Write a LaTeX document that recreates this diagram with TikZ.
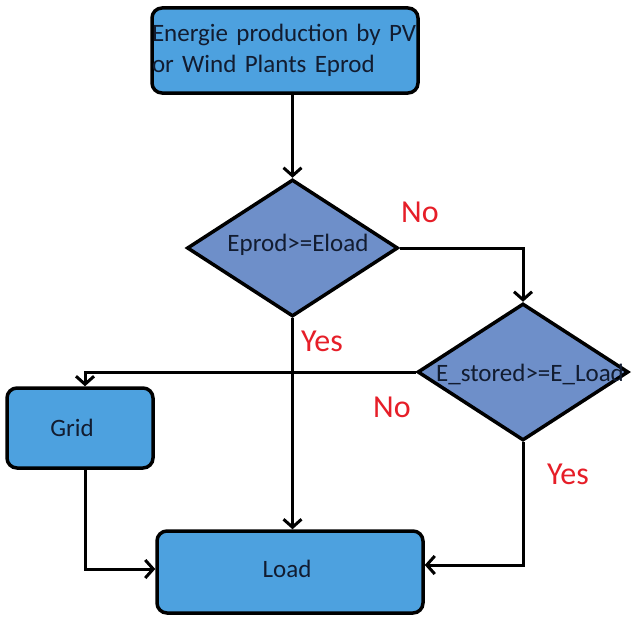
\documentclass[tikz,border=0pt]{standalone}
\usepackage{fontspec}
\setmainfont{Carlito}
\usetikzlibrary{shapes.geometric,arrows.meta,calc}
\definecolor{boxblue}{RGB}{77,161,223}
\definecolor{diablue}{RGB}{110,143,201}
\definecolor{txt}{RGB}{18,28,48}
\definecolor{lblred}{RGB}{230,30,40}
\begin{document}
\begin{tikzpicture}[x=1pt,y=-1pt,
  box/.style={draw=black,line width=3.5pt,fill=boxblue,rounded corners=10pt,inner sep=0pt,text=txt,font=\fontsize{25}{31}\selectfont},
  dia/.style={draw=black,line width=3.5pt,fill=diablue,diamond,inner sep=0pt,minimum width=211pt,minimum height=137pt},
  dtext/.style={text=txt,font=\fontsize{25}{30}\selectfont,inner sep=0pt},
  lbl/.style={text=lblred,font=\fontsize{32}{34}\selectfont,inner sep=0pt},
  conn/.style={line width=3pt,-{Straight Barb[length=8pt,width=18pt,line width=3pt]}}]
\fill[white] (0,0) rectangle (640,626);
\useasboundingbox (0,0) rectangle (640,626);
% nodes
\node[box,minimum width=266pt,minimum height=85pt,text width=266pt,align=left] (src) at (285,50.5) {Energie production by PV\\or Wind Plants Eprod};
\node[dia] (d1) at (292.5,248) {};
\node[dtext] (t1) at (298,245) {Eprod>=Eload};
\node[dia] (d2) at (523,372) {};
\node[dtext] (t2) at (530,374) {E\_stored>=E\_Load};
\node[box,minimum width=146pt,minimum height=80pt] (grid) at (80,428) {};
\node[dtext] (gridt) at (72,428) {Grid};
\node[box,minimum width=266pt,minimum height=82pt] (load) at (290,572) {};
\node[dtext] (loadt) at (287,569) {Load};
% labels
\node[lbl] (no1) at (420,212) {No};
\node[lbl] (yes1) at (322,341) {Yes};
\node[lbl] (no2) at (392,407) {No};
\node[lbl] (yes2) at (568,474) {Yes};
% connectors
\draw[conn] (d1.north |- src.south) -- (d1.north);
\draw[conn] (d1.east) -| (d2.north);
\draw[conn] (d2.west) -| ([xshift=5pt]grid.north);
\draw[conn] (d1.south) -- (d1.south |- load.north);
\draw[conn] ([xshift=5pt]grid.south) |- ([yshift=3pt]load.west);
\draw[conn] (d2.south) |- ([yshift=7pt]load.east);
\end{tikzpicture}
\end{document}
